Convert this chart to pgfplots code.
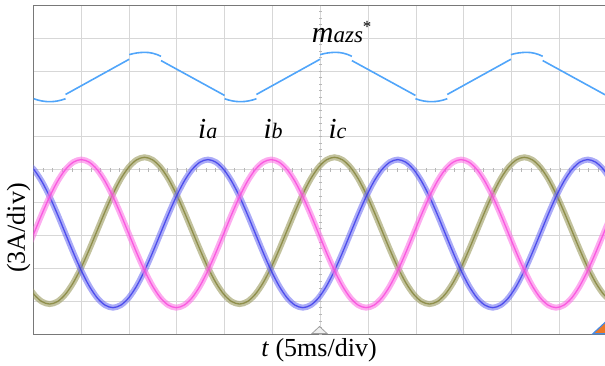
\documentclass[border=0pt]{standalone}
\usepackage{pgfplots}
\pgfplotsset{compat=1.18}
\usepackage{pgfplotstable}
\usepackage{fontspec}
\setmainfont{Liberation Serif}
\definecolor{cblue}{RGB}{55,55,235}
\definecolor{cmag}{RGB}{250,70,220}
\definecolor{coli}{RGB}{130,130,55}
\definecolor{cmazs}{RGB}{80,165,250}
\definecolor{gridc}{RGB}{215,215,215}
\definecolor{framec}{RGB}{120,120,120}
\definecolor{corange}{RGB}{235,120,40}
\definecolor{cedge}{RGB}{70,140,230}

\pgfplotstableread{
x ia ib ic
-0.1546 5.233 2.478 1.573
0.0108 5.009 3.060 1.219
0.1762 4.651 3.642 0.996
0.3416 4.185 4.185 0.920
0.5071 3.642 4.651 0.996
0.6725 3.060 5.009 1.219
0.8379 2.478 5.233 1.573
1.0033 1.935 5.310 2.035
1.1687 1.469 5.233 2.573
1.3342 1.111 5.009 3.150
1.4996 0.887 4.651 3.727
1.6650 0.810 4.185 4.265
1.8304 0.887 3.642 4.727
1.9958 1.111 3.060 5.081
2.1613 1.469 2.478 5.304
2.3267 1.935 1.935 5.380
2.4921 2.478 1.469 5.304
2.6575 3.060 1.111 5.081
2.8229 3.642 0.887 4.727
2.9884 4.185 0.810 4.265
3.1538 4.651 0.887 3.727
3.3192 5.009 1.111 3.150
3.4846 5.233 1.469 2.573
3.6500 5.310 1.935 2.035
3.8155 5.233 2.478 1.573
3.9809 5.009 3.060 1.219
4.1463 4.651 3.642 0.996
4.3117 4.185 4.185 0.920
4.4771 3.642 4.651 0.996
4.6426 3.060 5.009 1.219
4.8080 2.478 5.233 1.573
4.9734 1.935 5.310 2.035
5.1388 1.469 5.233 2.573
5.3042 1.111 5.009 3.150
5.4697 0.887 4.651 3.727
5.6351 0.810 4.185 4.265
5.8005 0.887 3.642 4.727
5.9659 1.111 3.060 5.081
6.1313 1.469 2.478 5.304
6.2968 1.935 1.935 5.380
6.4622 2.478 1.469 5.304
6.6276 3.060 1.111 5.081
6.7930 3.642 0.887 4.727
6.9584 4.185 0.810 4.265
7.1239 4.651 0.887 3.727
7.2893 5.009 1.111 3.150
7.4547 5.233 1.469 2.573
7.6201 5.310 1.935 2.035
7.7855 5.233 2.478 1.573
7.9510 5.009 3.060 1.219
8.1164 4.651 3.642 0.996
8.2818 4.185 4.185 0.920
8.4472 3.642 4.651 0.996
8.6126 3.060 5.009 1.219
8.7781 2.478 5.233 1.573
8.9435 1.935 5.310 2.035
9.1089 1.469 5.233 2.573
9.2743 1.111 5.009 3.150
9.4397 0.887 4.651 3.727
9.6052 0.810 4.185 4.265
9.7706 0.887 3.642 4.727
9.9360 1.111 3.060 5.081
10.1014 1.469 2.478 5.304
10.2668 1.935 1.935 5.380
10.4323 2.478 1.469 5.304
10.5977 3.060 1.111 5.081
10.7631 3.642 0.887 4.727
10.9285 4.185 0.810 4.265
11.0939 4.651 0.887 3.727
11.2594 5.009 1.111 3.150
11.4248 5.233 1.469 2.573
11.5902 5.310 1.935 2.035
11.7556 5.233 2.478 1.573
11.9210 5.009 3.060 1.219
12.0865 4.651 3.642 0.996
}\curr

\begin{document}
\begin{tikzpicture}
\begin{axis}[
  at={(0,0)}, anchor=south west,
  width=574pt, height=329pt, scale only axis,
  xmin=0, xmax=12, ymin=0, ymax=10,
  xtick={0,1,...,12}, ytick={0,1,...,10},
  xticklabels={}, yticklabels={},
  major tick length=0pt,
  grid=major,
  major grid style={draw=gridc, line width=0.9pt},
  axis line style={draw=framec, line width=1pt},
  unbounded coords=jump,
]
% centre-line tick marks
\draw[draw=gridc!85!black, line width=3.5pt, dash pattern=on 0.6pt off 5.98pt] (axis cs:6,0) -- (axis cs:6,10);
\draw[draw=gridc!85!black, line width=3.5pt, dash pattern=on 0.6pt off 8.97pt] (axis cs:0,5) -- (axis cs:12,5);

% m_azs*
\addplot[cmazs, line width=1.6pt] coordinates {
(0.0095,7.160) (0.0926,7.121) (0.1758,7.093) (0.2589,7.076) (0.342,7.070) (0.4251,7.076) (0.5083,7.093) (0.5914,7.121) (0.6745,7.160) (0.6745,nan)
(0.6745,7.290) (1.007,7.5575) (1.3395,7.825) (1.672,8.0925) (2.0045,8.360) (2.0045,nan)
(2.0045,8.500) (2.0876,8.531) (2.1708,8.553) (2.2539,8.566) (2.337,8.570) (2.4201,8.563) (2.5033,8.540) (2.5864,8.503) (2.6695,8.450) (2.6695,nan)
(2.6695,8.320) (3.002,8.055) (3.3345,7.790) (3.667,7.525) (3.9995,7.260) (3.9995,nan)
(3.9995,7.160) (4.0826,7.121) (4.1658,7.093) (4.2489,7.076) (4.332,7.070) (4.4151,7.076) (4.4983,7.093) (4.5814,7.121) (4.6645,7.160) (4.6645,nan)
(4.6645,7.290) (4.997,7.5575) (5.3295,7.825) (5.662,8.0925) (5.9945,8.360) (5.9945,nan)
(5.9945,8.500) (6.0776,8.531) (6.1608,8.553) (6.2439,8.566) (6.327,8.570) (6.4101,8.563) (6.4933,8.540) (6.5764,8.503) (6.6595,8.450) (6.6595,nan)
(6.6595,8.320) (6.992,8.055) (7.3245,7.790) (7.657,7.525) (7.9895,7.260) (7.9895,nan)
(7.9895,7.160) (8.0726,7.121) (8.1558,7.093) (8.2389,7.076) (8.322,7.070) (8.4051,7.076) (8.4883,7.093) (8.5714,7.121) (8.6545,7.160) (8.6545,nan)
(8.6545,7.290) (8.987,7.5575) (9.3195,7.825) (9.652,8.0925) (9.9845,8.360) (9.9845,nan)
(9.9845,8.500) (10.0676,8.531) (10.1508,8.553) (10.2339,8.566) (10.317,8.570) (10.4001,8.563) (10.4833,8.540) (10.5664,8.503) (10.6495,8.450) (10.6495,nan)
(10.6495,8.320) (10.982,8.055) (11.3145,7.790) (11.647,7.525) (11.9795,7.260) (11.9795,nan)
(11.9795,7.160) (12.0626,7.121)
};

% currents: wide translucent band + centre trace
\addplot[coli!75!white, line width=6pt, opacity=0.65, smooth] table[x=x,y=ic]{\curr};
\addplot[coli, line width=1.3pt, opacity=0.8, smooth] table[x=x,y=ic]{\curr};
\addplot[cblue!70!white, line width=6pt, opacity=0.6, smooth] table[x=x,y=ia]{\curr};
\addplot[cblue, line width=1.3pt, opacity=0.8, smooth] table[x=x,y=ia]{\curr};
\addplot[cmag!75!white, line width=6pt, opacity=0.6, smooth] table[x=x,y=ib]{\curr};
\addplot[cmag, line width=1.3pt, opacity=0.8, smooth] table[x=x,y=ib]{\curr};
\end{axis}

% decorations
\filldraw[fill=gray!12, draw=gray!75, line width=0.8pt] (278.7pt,0.8pt) -- (293.7pt,0.8pt) -- (286.2pt,7.8pt) -- cycle;
\filldraw[fill=corange, draw=cedge, line width=1.2pt] (559.5pt,0.5pt) -- (573pt,0.5pt) -- (573pt,13pt) -- cycle;

% labels
\node[rotate=90, inner sep=0pt, font=\fontsize{26}{30}\selectfont] at (-14.8pt,106.3pt) {(3A/div)};
\node[anchor=base, inner sep=0pt, font=\fontsize{26}{30}\selectfont] at (285.7pt,-21.7pt) {\textit{t} (5ms/div)};
\node[anchor=base west, inner sep=0pt] at (164.7pt,196pt) {\fontsize{29}{32}\selectfont\itshape i\fontsize{22}{26}\selectfont a};
\node[anchor=base west, inner sep=0pt] at (230pt,196pt) {\fontsize{29}{32}\selectfont\itshape i\fontsize{22}{26}\selectfont b};
\node[anchor=base west, inner sep=0pt] at (295pt,196pt) {\fontsize{29}{32}\selectfont\itshape i\fontsize{22}{26}\selectfont c};
\node[anchor=base west, inner sep=0pt] at (278.4pt,291.6pt) {\fontsize{30}{34}\selectfont\itshape m\fontsize{23}{26}\selectfont azs\raisebox{10pt}{\fontsize{17}{18}\selectfont\upshape *}};

\pgfresetboundingbox
\useasboundingbox (-33.3pt,-30.7pt) rectangle (571.7pt,334.3pt);
\end{tikzpicture}
\end{document}
